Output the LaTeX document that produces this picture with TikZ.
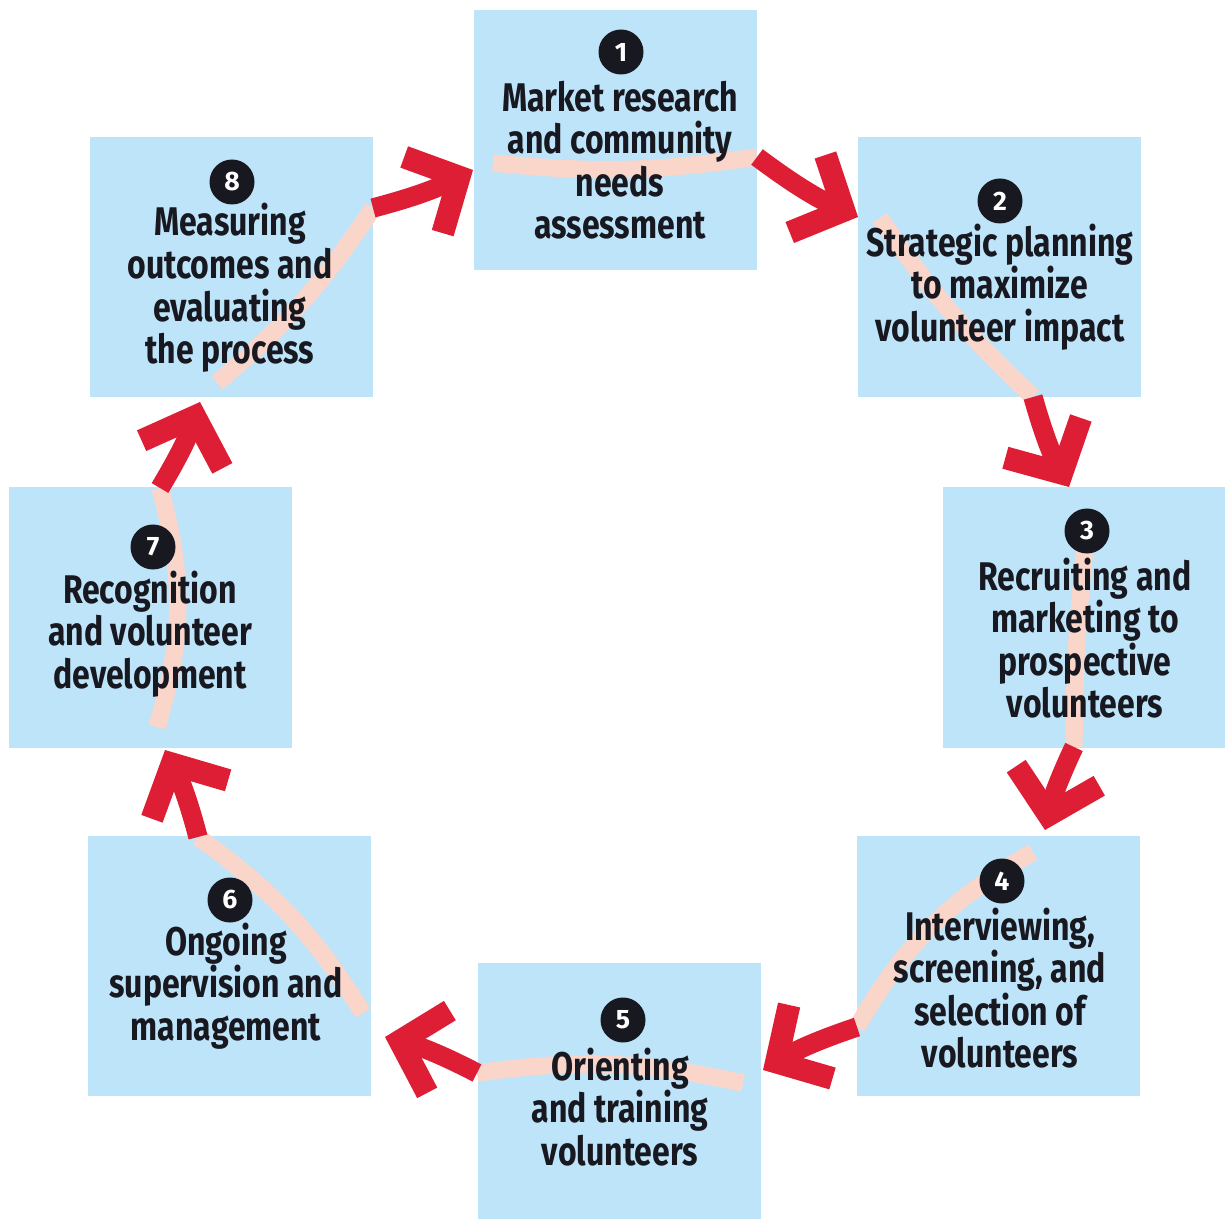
\documentclass[tikz,border=0pt]{standalone}
\usepackage{fontspec}
\newfontfamily\condfont{Fira Sans}[FakeStretch=0.8]
\newfontfamily\numfont{Fira Sans}
\usetikzlibrary{arrows.meta}
\definecolor{boxblue}{RGB}{190,228,249}
\definecolor{loopred}{RGB}{221,30,52}
\definecolor{looppale}{RGB}{250,214,202}
\definecolor{ink}{RGB}{24,24,32}

\begin{document}
\begin{tikzpicture}[x=0.75pt,y=0.75pt,yscale=-1,xscale=1,
  stage/.style={fill=boxblue, minimum width=212.25pt, minimum height=195pt, inner sep=0pt},
  stagetext/.style={align=center, text=ink, inner sep=0pt, font=\condfont\bfseries\fontsize{30}{31.9}\selectfont},
  numdot/.style={circle, fill=ink, text=white, minimum size=33.75pt, inner sep=0pt, font=\numfont\bfseries\fontsize{20}{20}\selectfont},
  pale/.style={draw=looppale, line width=13pt},
  flow/.style={draw=loopred, line width=14.5pt, -{Straight Barb[length=30pt, width=64pt, line width=17pt]}}]
\useasboundingbox (0,0) rectangle (1225,1219);

%Shape: Rectangles
\node[stage] (b1) at (615.5,140) {};
\node[stage] (b2) at (999.5,267) {};
\node[stage] (b3) at (1084.5,617.5) {};
\node[stage] (b4) at (998.5,965.5) {};
\node[stage] (b5) at (619,1093) {};
\node[stage] (b6) at (229.5,965.5) {};
\node[stage] (b7) at (150,617.5) {};
\node[stage] (b8) at (231.5,267) {};

%Loop points
\coordinate (in1) at (493,163); \coordinate (out1) at (757,157); \coordinate (tip2) at (858,217);
\coordinate (in2) at (880,218); \coordinate (out2) at (1033,397); \coordinate (tip3) at (1069,487);
\coordinate (in3) at (1086,540); \coordinate (out3) at (1074,747); \coordinate (tip4) at (1045,830);
\coordinate (in4) at (1033,852); \coordinate (out4) at (857,1027); \coordinate (tip5) at (763,1070);
\coordinate (in5) at (743,1083); \coordinate (out5) at (477,1073); \coordinate (tip6) at (385,1037);
\coordinate (in6) at (363,1013); \coordinate (out6) at (198,837); \coordinate (tip7) at (165,750);
\coordinate (in7) at (157,727); \coordinate (out7) at (160,488); \coordinate (tip8) at (200,402);
\coordinate (in8) at (217,383); \coordinate (out8) at (373,208); \coordinate (tip1) at (473,170);

%Curves: inside the boxes
\draw[pale] (in1) to[bend left=7] (out1);
\draw[pale] (in2) to[bend left=6] (out2);
\draw[pale] (in3) to[bend left=3] (out3);
\draw[pale] (in4) to[bend left=15] (out4);
\draw[pale] (in5) to[bend left=10] (out5);
\draw[pale] (in6) to[bend left=11] (out6);
\draw[pale] (in7) to[bend left=16] (out7);
\draw[pale] (in8) to[bend left=8] (out8);

%Curves: arrows between the boxes
\draw[flow] (out1) to[bend left=6] (tip2);
\draw[flow] (out2) to[bend left=6] (tip3);
\draw[flow] (out3) to[bend left=6] (tip4);
\draw[flow] (out4) to[bend left=6] (tip5);
\draw[flow] (out5) to[bend left=6] (tip6);
\draw[flow] (out6) to[bend left=6] (tip7);
\draw[flow] (out7) to[bend left=6] (tip8);
\draw[flow] (out8) to[bend left=6] (tip1);

% Number Nodes
\node[numdot] (n1) at (621,52) {1};
\node[numdot] (n2) at (1000,201) {2};
\node[numdot] (n3) at (1087,531) {3};
\node[numdot] (n4) at (1002,881) {4};
\node[numdot] (n5) at (623,1020) {5};
\node[numdot] (n6) at (230,900) {6};
\node[numdot] (n7) at (153,547) {7};
\node[numdot] (n8) at (232,182) {8};

% Text Nodes
\node[stagetext] (t1) at (620,160) {Market research\\and community\\needs\\assessment};
\node[stagetext] (t2) at (1000,287) {Strategic planning\\to maximize\\volunteer impact};
\node[stagetext] (t3) at (1085,638) {Recruiting and\\marketing to\\prospective\\volunteers};
\node[stagetext] (t4) at (1000,988) {Interviewing,\\screening, and\\selection of\\volunteers};
\node[stagetext] (t5) at (620,1107) {Orienting\\and training\\volunteers};
\node[stagetext] (t6) at (226,986) {Ongoing\\supervision and\\management};
\node[stagetext] (t7) at (150,634) {Recognition\\and volunteer\\development};
\node[stagetext] (t8) at (230,288) {Measuring\\outcomes and\\evaluating\\the process};

\end{tikzpicture}
\end{document}
